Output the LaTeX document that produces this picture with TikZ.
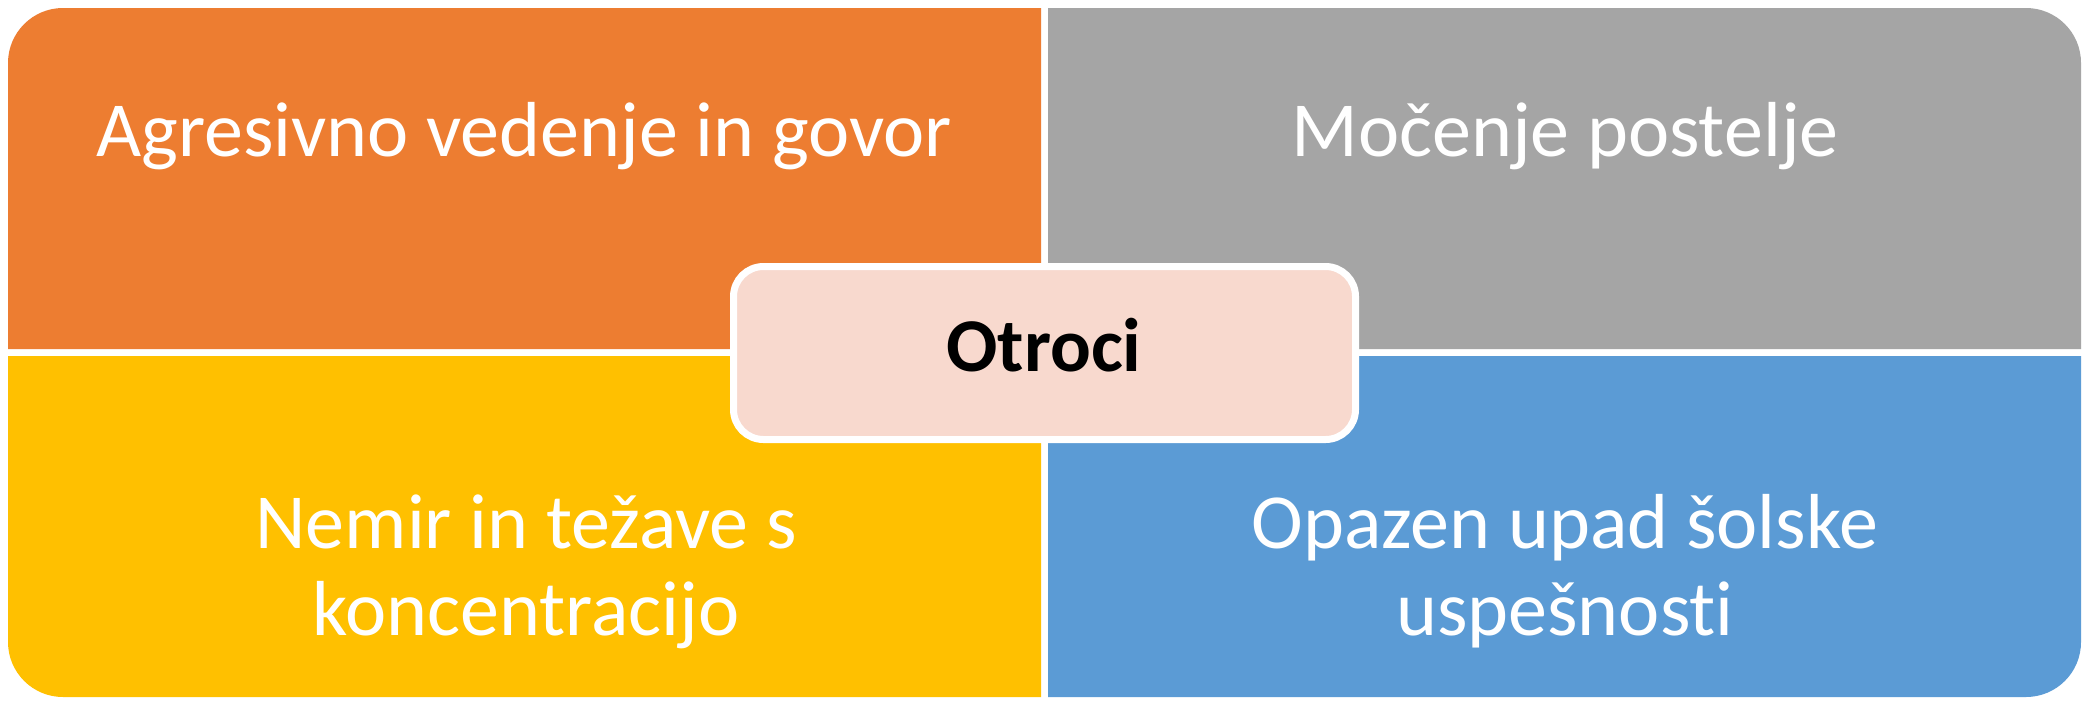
\documentclass[tikz,border=0pt]{standalone}
\usepackage{fontspec}
\setmainfont{Carlito}[Ligatures=NoCommon]
\definecolor{qorange}{HTML}{ED7D31}
\definecolor{qgray}{HTML}{A5A5A5}
\definecolor{qyellow}{HTML}{FFC000}
\definecolor{qblue}{HTML}{5B9BD5}
\definecolor{qcenter}{HTML}{F8D9CE}
\begin{document}
\begin{tikzpicture}[x=1pt,y=-1pt,
  quadtext/.style={text=white, font=\fontsize{78}{88}\selectfont, anchor=base, inner sep=0pt, align=center},
  hubbox/.style={draw=white, line width=7pt, fill=qcenter, rounded corners=30pt, minimum width=622pt, minimum height=173pt, inner sep=0pt},
  hubtext/.style={text=black, font=\fontsize{76}{86}\selectfont\bfseries, anchor=base, inner sep=0pt}]
\useasboundingbox (0,0) rectangle (2090,710);
\fill[white] (0,0) rectangle (2090,710);
% quadrants
\fill[qorange] (8,200) [rounded corners=55pt] -- (8,8) -- (500,8) [sharp corners] -- (1041,8) -- (1041,349) -- (8,349) -- cycle;
\fill[qgray] (2081,200) [rounded corners=55pt] -- (2081,8) -- (1500,8) [sharp corners] -- (1048,8) -- (1048,349) -- (2081,349) -- cycle;
\fill[qyellow] (8,500) [rounded corners=55pt] -- (8,697) -- (500,697) [sharp corners] -- (1041,697) -- (1041,356) -- (8,356) -- cycle;
\fill[qblue] (2081,500) [rounded corners=55pt] -- (2081,697) -- (1500,697) [sharp corners] -- (1048,697) -- (1048,356) -- (2081,356) -- cycle;
% texts
\node[quadtext] (tl) at (524,156) {Agresivno vedenje in govor};
\node[quadtext] (tr) at (1565,156) {Močenje postelje};
\node[quadtext] (bl1) at (526,548) {Nemir in težave s};
\node[quadtext] (bl2) at (526,635) {koncentracijo};
\node[quadtext] (br1) at (1565,548) {Opazen upad šolske};
\node[quadtext] (br2) at (1565,635) {uspešnosti};
% hub
\node[hubbox] (hub) at (1044.5,353) {};
\node[hubtext] (hubt) at (1044,371) {Otroci};
\end{tikzpicture}
\end{document}
